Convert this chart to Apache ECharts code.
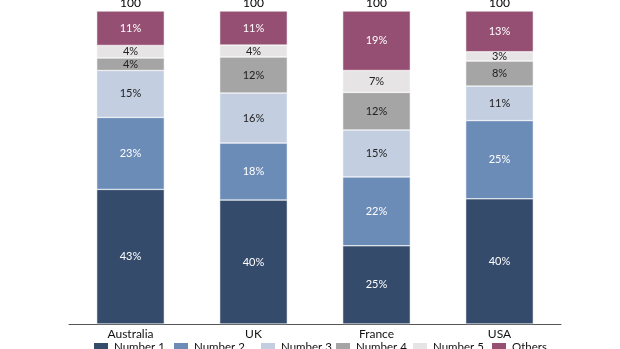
<!DOCTYPE html>
<html><head><meta charset="utf-8">
<script src="https://cdn.jsdelivr.net/npm/echarts@6/dist/echarts.min.js"></script>
<style>html,body{margin:0;padding:0;background:#fff}#c{width:620px;height:349px}</style>
</head><body><div id="c"></div>
<script>
const categories = ['Australia', 'UK', 'France', 'USA'];
const number1 = [43, 39.6, 25, 40];
const number2 = [23, 18.2, 22, 25];
const number3 = [15, 16, 15, 11];
const number4 = [4, 11.5, 12, 8];
const number5 = [4, 3.8, 7, 3];
const others  = [11, 10.9, 19, 13];
const totals  = [100, 100, 100, 100];
const seriesNames = ['Number 1', 'Number 2', 'Number 3', 'Number 4', 'Number 5', 'Others'];
const seriesData = [number1, number2, number3, number4, number5, others];
const colors = ['#354B6C', '#6C8CB8', '#C3CEE1', '#A5A5A5', '#E7E4E6', '#954F72'];
const labelColors = ['#fff', '#fff', '#222', '#222', '#222', '#fff'];
const legendLefts = [92, 172, 259, 334, 411, 490];
const FONT = 'Lato';

const series = seriesNames.map((n, i) => ({
  name: n, type: 'bar', stack: 'total', barWidth: '55%',
  data: seriesData[i],
  itemStyle: { color: colors[i], borderColor: '#ffffff', borderWidth: 0.5 },
  label: { show: true, position: 'inside', color: labelColors[i], fontFamily: FONT, fontSize: 11,
    formatter: p => Math.round(p.value) + '%' }
}));
series.push({
  name: 'Total', type: 'bar', stack: 'total', data: totals.map(() => 0),
  itemStyle: { color: 'transparent' },
  label: { show: true, position: 'top', distance: 2, color: '#000', fontFamily: FONT, fontSize: 12,
    formatter: p => totals[p.dataIndex] }
});

const legends = seriesNames.map((n, i) => ({
  data: [n], top: 341, left: legendLefts[i], padding: 0, itemWidth: 16, itemHeight: 10,
  icon: 'rect', textStyle: { color: '#111', fontFamily: FONT, fontSize: 11.5, width: 60, overflow: 'none' }
}));

const chart = echarts.init(document.getElementById('c'), null, { renderer: 'canvas' });
chart.setOption({
  animation: false,
  backgroundColor: '#fff',
  grid: { left: 69, right: 59, top: 11, bottom: 25 },
  xAxis: {
    type: 'category', data: categories,
    axisLine: { lineStyle: { color: '#555', width: 1 } },
    axisTick: { show: false },
    axisLabel: { color: '#111', fontFamily: FONT, fontSize: 12, margin: 4 }
  },
  yAxis: { type: 'value', min: 0, max: 100, show: false, splitLine: { show: false } },
  legend: legends,
  series
});
</script></body></html>
